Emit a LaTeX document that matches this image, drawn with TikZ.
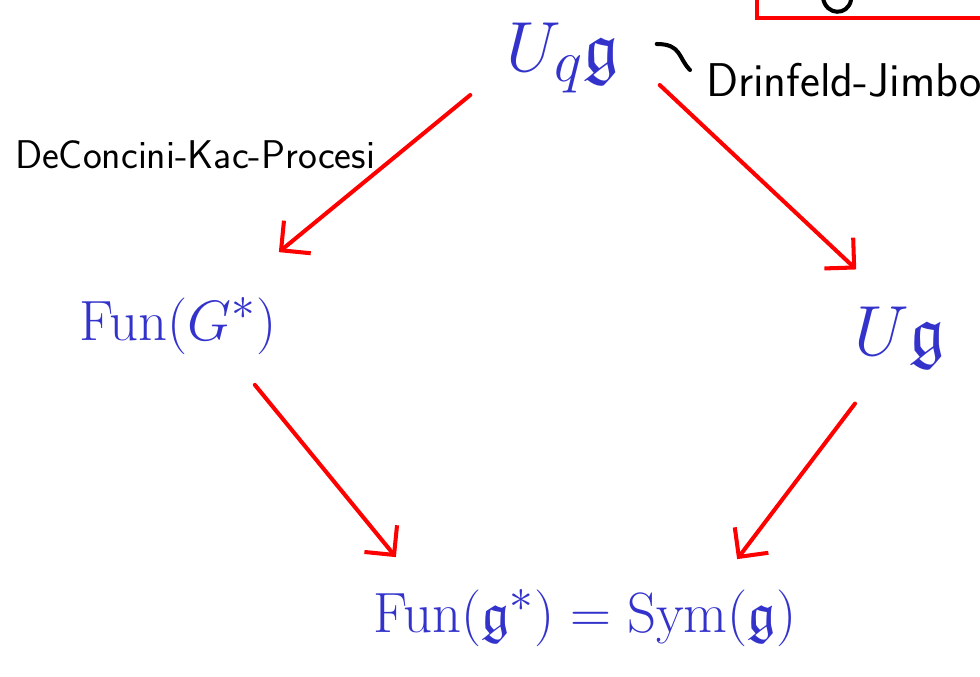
\documentclass[tikz,border=0pt]{standalone}
\usepackage{amssymb}
\usetikzlibrary{arrows.meta}
\definecolor{blueink}{HTML}{3333CC}
\definecolor{redink}{HTML}{FF0000}
\tikzset{
  ink/.style={text=blueink, font=\Huge, scale=1.3, inner sep=0pt},
  big/.style={scale=1.25},
  hand/.style={text=black, font=\huge\sffamily},
  redarrow/.style={draw=redink, line width=2.3pt, line cap=round,
    -{Straight Barb[length=12pt, width=24pt, line width=2.3pt]}},
  pen/.style={draw=black, line width=2.3pt, line cap=round}
}
\begin{document}
\begin{tikzpicture}[x=0.02cm, y=-0.02cm]
        \useasboundingbox (0,0) rectangle (980,676);
        \clip (0,0) rectangle (980,676);
        % box at the top, cut by the edge
        \draw[redink, line width=2.3pt] (757,-20) rectangle (1000,18);
        \draw[pen] (823,-2) .. controls (826,16) and (848,16) .. (851,0);

        % the algebras
        \node[ink, big] (uqg) at (563,58) {$U_q\mathfrak{g}$};
        \node[ink] (funG) at (178,326) {$\mathrm{Fun}(G^*)$};
        \node[ink, big] (ug) at (900,338) {$U\mathfrak{g}$};
        \node[ink] (sym) at (585,618) {$\mathrm{Fun}(\mathfrak{g}^*)=\mathrm{Sym}(\mathfrak{g})$};

        % names
        \node[hand, scale=1.3, anchor=west] (dj) at (698,80) {Drinfeld-Jimbo};
        \node[hand, scale=1.1] (dkp) at (195,155) {DeConcini-Kac-Procesi};
        \draw[pen] ([shift={(37,-14)}]uqg.east) .. controls +(25,0) and +(-12,-12) .. ([shift={(-8,-10)}]dj.west);

        % the arrows
        \draw[redarrow] ([shift={(-36,37)}]uqg.west) -- ([shift={(2,-45)}]funG.north east);
        \draw[redarrow] ([shift={(40,27)}]uqg.east) -- ([shift={(2,-37)}]ug.north west);
        \draw[redarrow] ([shift={(-22,30)}]funG.south east) -- ([shift={(23,-32)}]sym.north west);
        \draw[redarrow] ([shift={(-45,34)}]ug.south) -- ([shift={(-60,-30)}]sym.north east);
    \end{tikzpicture}
\end{document}
